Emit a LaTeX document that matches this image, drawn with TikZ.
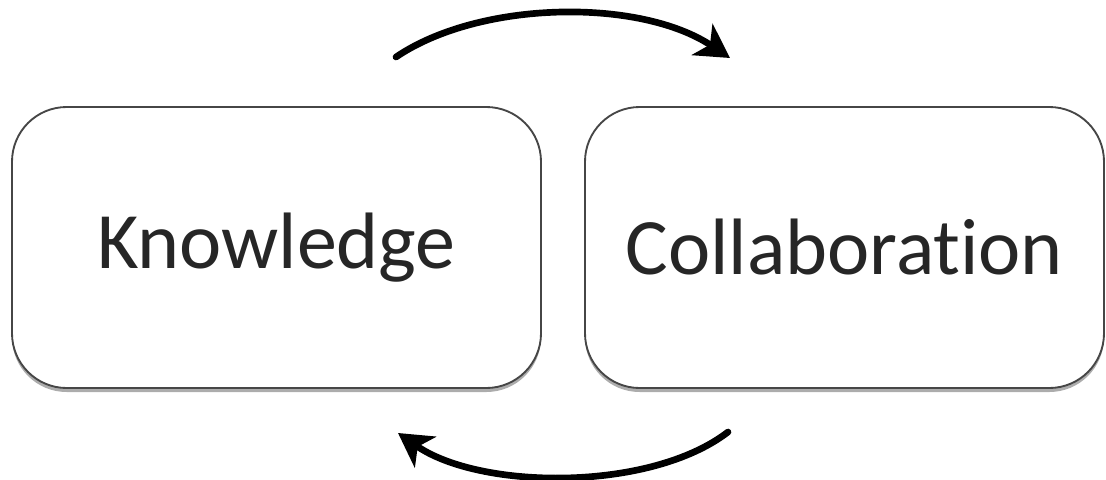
\documentclass[tikz,border=0pt]{standalone}
\usepackage{fontspec}
\setmainfont{Carlito}[Ligatures=NoCommon]
\usetikzlibrary{arrows.meta,shadows}

\begin{document}
\begin{tikzpicture}[x=0.75pt,y=0.75pt,yscale=-1,xscale=1,
  box/.style={draw=gray!55!black, line width=1.4pt, rounded corners=41pt, fill=white,
    inner sep=0pt, minimum height=210.75pt, text=black!85,
    font=\fontsize{60}{68}\selectfont,
    drop shadow={shadow xshift=0pt, shadow yshift=-3pt, fill=gray!65, opacity=1}},
  loop/.style={line width=5pt, line cap=round, -{Stealth[length=25pt,width=28pt,inset=7pt]}}]
\useasboundingbox (0,0) rectangle (1106,479);
% the two boxes
\node [box, minimum width=396.75pt] (know) at (276.5,247.5) {Knowledge};
\node [box, minimum width=389.25pt] (collab) at (844.5,247.5) {Collaboration};
% arcs between them
\coordinate (topA) at (396,57);
\coordinate (topB) at (730,58);
\coordinate (botA) at (728,432);
\coordinate (botB) at (398,433);
\draw [loop] (topA) .. controls (480,0) and (640,-2) .. (topB) ;
\draw [loop] (botA) .. controls (650,492) and (480,490) .. (botB) ;
\end{tikzpicture}
\end{document}
